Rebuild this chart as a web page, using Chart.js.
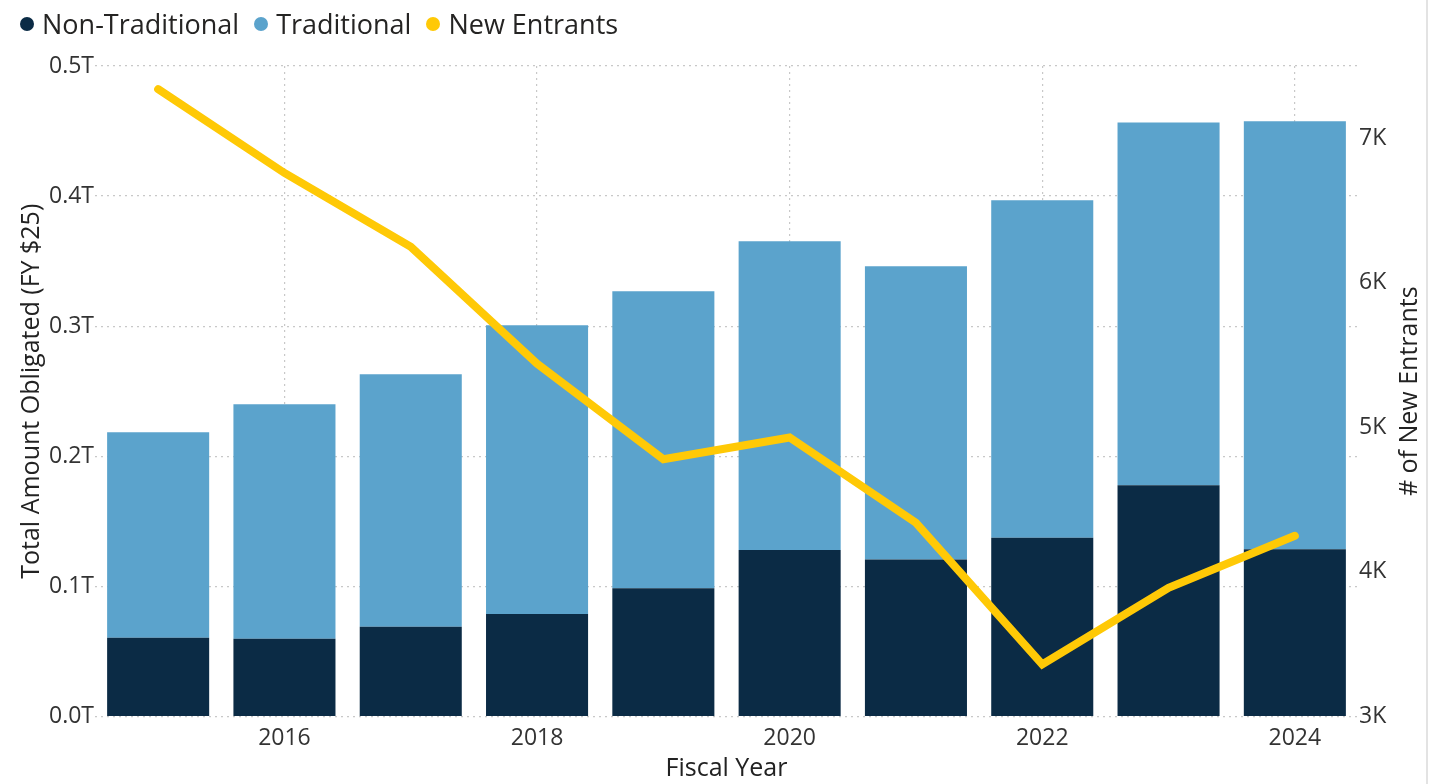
<!DOCTYPE html>
<html>
<head>
<meta charset="utf-8">
<title>Obligations and New Entrants by Fiscal Year</title>
<script src="https://cdn.jsdelivr.net/npm/chart.js@4.4.1/dist/chart.umd.min.js"></script>
<style>
  html, body { margin: 0; padding: 0; background: #fff; }
  #wrap { position: relative; width: 1426px; height: 784px; border-right: 2px solid #e3e3e3; }
  #legend {
    position: absolute; left: 20px; top: 6px;
    display: flex; align-items: center;
    font: 27px "Open Sans", sans-serif; color: #252423; line-height: 36px;
  }
  #legend .item { display: flex; align-items: center; margin-right: 15px; }
  #legend .dot { width: 14px; height: 14px; border-radius: 50%; margin-right: 8px; }
</style>
</head>
<body>
<div id="wrap">
  <canvas id="chart" width="1426" height="784"></canvas>
  <div id="legend"></div>
</div>
<script>
// fiscal years on the x axis
const years = [2015, 2016, 2017, 2018, 2019, 2020, 2021, 2022, 2023, 2024];

// amounts obligated, trillions of FY25 dollars
const nonTraditional = [0.0605, 0.0598, 0.069, 0.0787, 0.0985, 0.1279, 0.1207, 0.1373, 0.1778, 0.1286];
const traditional = [0.158, 0.1802, 0.194, 0.222, 0.2283, 0.2373, 0.2253, 0.2595, 0.2788, 0.329];

// count of new entrants per year
const newEntrants = [7340, 6760, 6250, 5440, 4780, 4930, 4340, 3360, 3890, 4250];

// tick values for both value axes
const amountTicks = [0, 0.1, 0.2, 0.3, 0.4, 0.5];
const entrantTicks = [3000, 4000, 5000, 6000, 7000];

const amountTitle = "Total Amount Obligated (FY $25)";
const entrantsTitle = "# of New Entrants";
const xTitle = "Fiscal Year";

const colors = {
    nonTraditional: "#0b2b45",
    traditional: "#5ba3cc",
    entrants: "#ffc906"
};

Chart.defaults.font.family = '"Open Sans", sans-serif';
Chart.defaults.color = "#333";

// the right-hand axis title reads bottom to top, so it is drawn here
const rightTitle = {
    id: "rightTitle",
    afterDraw(chart) {
        const s = chart.scales.y1;
        const ctx = chart.ctx;
        ctx.save();
        ctx.translate(s.right - 16, (s.top + s.bottom) / 2);
        ctx.rotate(-Math.PI / 2);
        ctx.font = '25px "Open Sans", sans-serif';
        ctx.fillStyle = "#222";
        ctx.textAlign = "center";
        ctx.textBaseline = "middle";
        ctx.fillText(entrantsTitle, 0, 0);
        ctx.restore();
    }
};

const gridStyle = { color: "#c8c8c8", lineWidth: 1.2, drawTicks: false };
const dottedBorder = { display: false, dash: [2, 4] };

const chart = new Chart(document.getElementById("chart"), {
    type: "bar",
    data: {
        labels: years,
        datasets: [
            {
                type: "line",
                label: "New Entrants",
                data: newEntrants,
                yAxisID: "y1",
                borderColor: colors.entrants,
                backgroundColor: colors.entrants,
                borderWidth: 8,
                borderCapStyle: "round",
                borderJoinStyle: "miter",
                pointRadius: 0,
                tension: 0,
                order: 0
            },
            {
                label: "Non-Traditional",
                data: nonTraditional,
                backgroundColor: colors.nonTraditional,
                stack: "amount",
                yAxisID: "y",
                barPercentage: 0.808,
                categoryPercentage: 1,
                order: 1
            },
            {
                label: "Traditional",
                data: traditional,
                backgroundColor: colors.traditional,
                stack: "amount",
                yAxisID: "y",
                barPercentage: 0.808,
                categoryPercentage: 1,
                order: 1
            }
        ]
    },
    options: {
        responsive: false,
        animation: false,
        layout: { padding: { top: 66, left: 0, right: 0, bottom: 0 } },
        plugins: {
            legend: { display: false },
            tooltip: { enabled: false }
        },
        scales: {
            x: {
                stacked: true,
                offset: true,
                border: dottedBorder,
                grid: { offset: false, ...gridStyle },
                afterBuildTicks: axis => {
                    // only even years get a label and a grid line
                    axis.ticks = axis.ticks.filter(t => years[t.value] % 2 === 0);
                },
                afterFit: axis => { axis.height = 67.5; },
                ticks: { autoSkip: false, maxRotation: 0, padding: 8, font: { size: 23 }, color: "#333" },
                title: { display: true, text: xTitle, font: { size: 25 }, color: "#222", padding: { top: 0, bottom: 0 } }
            },
            y: {
                stacked: true,
                position: "left",
                min: 0,
                max: 0.5,
                border: dottedBorder,
                grid: gridStyle,
                afterBuildTicks: axis => { axis.ticks = amountTicks.map(v => ({ value: v })); },
                afterFit: axis => { axis.width = 95; },
                ticks: {
                    autoSkip: false,
                    padding: 1,
                    font: { size: 23 },
                    color: "#333",
                    callback: v => v.toFixed(1) + "T"
                },
                title: { display: true, text: amountTitle, font: { size: 25 }, color: "#222", padding: { top: 17, bottom: 0 } }
            },
            y1: {
                position: "right",
                min: 3000,
                max: 7500,
                border: { display: false },
                grid: { drawOnChartArea: false, drawTicks: false },
                afterBuildTicks: axis => { axis.ticks = entrantTicks.map(v => ({ value: v })); },
                afterFit: axis => { axis.width = 68; },
                ticks: {
                    autoSkip: false,
                    padding: 1,
                    font: { size: 23 },
                    color: "#333",
                    callback: v => v / 1000 + "K"
                }
            }
        }
    },
    plugins: [rightTitle]
});

// legend in the same order as the series read left to right
const legendEl = document.getElementById("legend");
[
    ["Non-Traditional", colors.nonTraditional],
    ["Traditional", colors.traditional],
    ["New Entrants", colors.entrants]
].forEach(([name, color]) => {
    const item = document.createElement("span");
    item.className = "item";
    item.innerHTML = `<span class="dot" style="background:${color}"></span><span>${name}</span>`;
    legendEl.appendChild(item);
});
</script>
</body>
</html>
